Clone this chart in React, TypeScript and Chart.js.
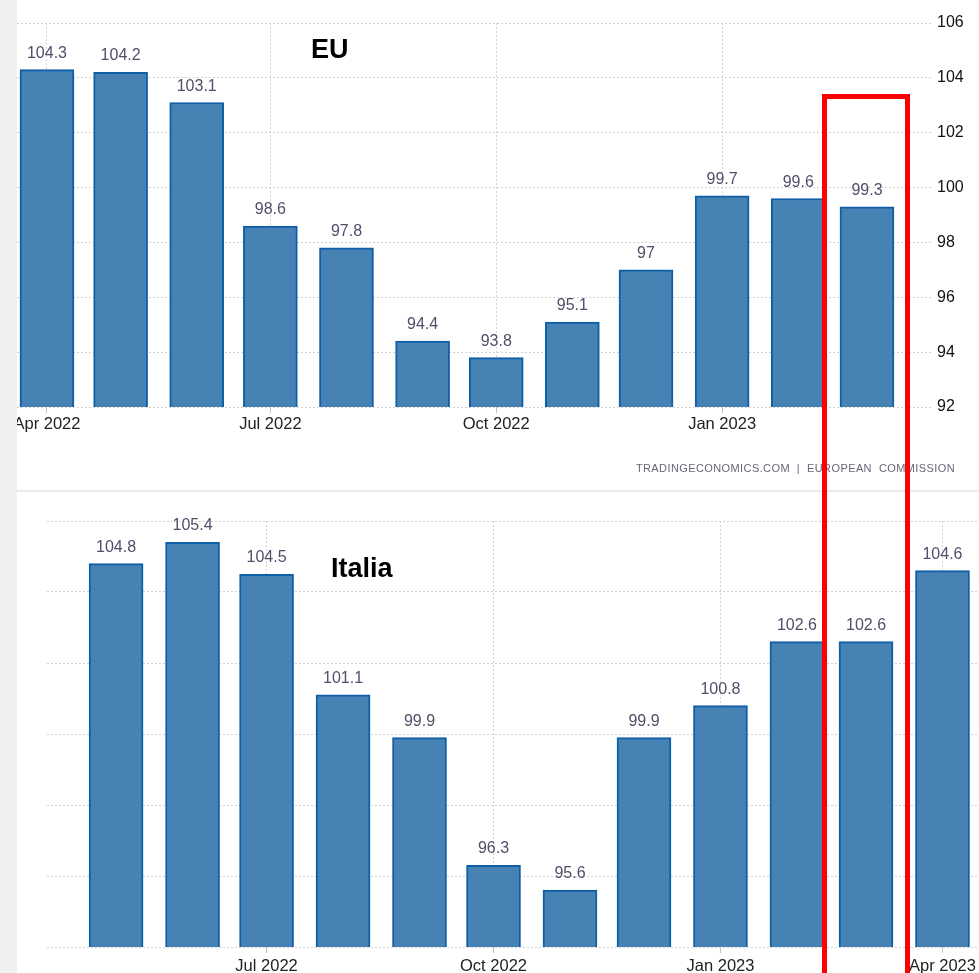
import React, { useEffect, useRef } from 'react';
import { Chart, registerables } from 'chart.js';

Chart.register(...registerables);

// ---- data ----
const euMonths = ['2022-04', '2022-05', '2022-06', '2022-07', '2022-08', '2022-09', '2022-10', '2022-11', '2022-12', '2023-01', '2023-02', '2023-03'];
const euValues = [104.3, 104.2, 103.1, 98.6, 97.8, 94.4, 93.8, 95.1, 97, 99.7, 99.6, 99.3];
const euTickMonths = ['2022-04', '2022-07', '2022-10', '2023-01'];
const euTickLabels = ['Apr 2022', 'Jul 2022', 'Oct 2022', 'Jan 2023'];
const euYTicks = [92, 94, 96, 98, 100, 102, 104, 106];

const itMonths = ['2022-05', '2022-06', '2022-07', '2022-08', '2022-09', '2022-10', '2022-11', '2022-12', '2023-01', '2023-02', '2023-03', '2023-04'];
const itValues = [104.8, 105.4, 104.5, 101.1, 99.9, 96.3, 95.6, 99.9, 100.8, 102.6, 102.6, 104.6];
const itTickMonths = ['2022-07', '2022-10', '2023-01', '2023-04'];
const itTickLabels = ['Jul 2022', 'Oct 2022', 'Jan 2023', 'Apr 2023'];
const itYTicks = [94, 96, 98, 100, 102, 104, 106];

const sourceText = 'TRADINGECONOMICS.COM  |  EUROPEAN  COMMISSION';

const BASE = Date.UTC(2022, 3, 1);
function dayOf(m: string): number {
  const [y, mo] = m.split('-').map(Number);
  return (Date.UTC(y, mo - 1, 1) - BASE) / 86400000;
}

const valueLabels = {
  id: 'valueLabels',
  afterDatasetsDraw(chart: any) {
    const ctx = chart.ctx;
    const ds = chart.data.datasets[0];
    const meta = chart.getDatasetMeta(0);
    ctx.save();
    ctx.font = '16px "Liberation Sans", Arial, sans-serif';
    ctx.fillStyle = '#4f4f6a';
    ctx.textAlign = 'center';
    ctx.textBaseline = 'alphabetic';
    meta.data.forEach((el: any, i: number) => {
      const v = ds.data[i].y;
      ctx.fillText(String(v), el.x, el.y - 12);
    });
    ctx.restore();
  },
};

const GRID = '#d2d2d2';
const BAR_FILL = '#4682b4';
const BAR_BORDER = '#0f5fa8';
const XFONT = { family: '"Liberation Sans", Arial, sans-serif', size: 16.5 };

function makeConfig(opts: {
  months: string[];
  values: number[];
  tickMonths: string[];
  tickLabels: string[];
  yTicks: number[];
  xmin: number;
  xmax: number;
  padding: any;
  xHeight: number;
  yWidth: number;
  showY: boolean;
  xPad: number;
}): any {
  return {
    type: 'bar',
    data: {
      datasets: [
        {
          data: opts.months.map((m, i) => ({ x: dayOf(m), y: opts.values[i] })),
          backgroundColor: BAR_FILL,
          borderColor: BAR_BORDER,
          borderWidth: 2,
          borderSkipped: false,
          barThickness: 54,
        },
      ],
    },
    options: {
      animation: false,
      responsive: false,
      maintainAspectRatio: false,
      layout: { padding: opts.padding },
      plugins: { legend: { display: false }, tooltip: { enabled: false } },
      scales: {
        x: {
          type: 'linear',
          offset: false,
          min: opts.xmin,
          max: opts.xmax,
          afterBuildTicks: (s: any) => {
            s.ticks = opts.tickMonths.map((m) => ({ value: dayOf(m) }));
          },
          afterFit: (s: any) => {
            s.height = opts.xHeight;
          },
          ticks: {
            autoSkip: false,
            maxRotation: 0,
            padding: opts.xPad,
            color: '#222',
            font: XFONT,
            callback: (v: number) => {
              const idx = opts.tickMonths.findIndex((m) => dayOf(m) === v);
              return idx >= 0 ? opts.tickLabels[idx] : '';
            },
          },
          grid: { color: GRID, tickLength: 6, tickColor: '#c4c4c4', offset: false },
          border: { display: false, dash: [2, 2] },
        },
        y: {
          position: 'right',
          min: opts.yTicks[0],
          max: opts.yTicks[opts.yTicks.length - 1],
          afterBuildTicks: (s: any) => {
            s.ticks = opts.yTicks.map((v) => ({ value: v }));
          },
          afterFit: (s: any) => {
            s.width = opts.yWidth;
          },
          ticks: {
            display: opts.showY,
            padding: 4,
            color: '#111',
            font: { family: '"Liberation Sans", Arial, sans-serif', size: 16 },
          },
          grid: { color: GRID, drawTicks: false },
          border: { display: false, dash: [2, 2] },
        },
      },
    },
    plugins: [valueLabels],
  };
}

function BarCanvas(props: { config: any; width: number; height: number; style: React.CSSProperties }) {
  const ref = useRef<HTMLCanvasElement | null>(null);
  useEffect(() => {
    if (!ref.current) return;
    const chart = new Chart(ref.current, props.config);
    return () => chart.destroy();
  }, []);
  return (
    <canvas
      ref={ref}
      width={props.width}
      height={props.height}
      style={{ position: 'absolute', width: props.width, height: props.height, ...props.style }}
    />
  );
}

export default function App() {
  const euConfig = makeConfig({
    months: euMonths,
    values: euValues,
    tickMonths: euTickMonths,
    tickLabels: euTickLabels,
    yTicks: euYTicks,
    xmin: -12.2,
    xmax: 360.9,
    padding: { left: 60, top: 23, right: 0, bottom: 0 },
    xHeight: 83,
    yWidth: 46,
    showY: true,
    xPad: 2,
  });
  const itConfig = makeConfig({
    months: itMonths,
    values: itValues,
    tickMonths: itTickMonths,
    tickLabels: itTickLabels,
    yTicks: itYTicks,
    xmin: 2,
    xmax: 379.8,
    padding: { left: 30, top: 29, right: 51, bottom: 0 },
    xHeight: 26,
    yWidth: 0,
    showY: false,
    xPad: 4,
  });

  return (
    <div
      style={{
        position: 'absolute',
        left: 0,
        top: 0,
        width: 979,
        height: 973,
        overflow: 'hidden',
        background: '#f0f0f0',
      }}
    >
      {/* EU panel */}
      <div style={{ position: 'absolute', left: 17, top: 0, width: 962, height: 490, background: '#fff', overflow: 'hidden' }}>
        <BarCanvas config={euConfig} width={1022} height={490} style={{ left: -60, top: 0 }} />
        <div
          style={{
            position: 'absolute',
            right: 24,
            top: 463,
            fontFamily: '"Liberation Sans", Arial, sans-serif',
            fontSize: 11,
            lineHeight: '11px',
            letterSpacing: '0.4px',
            color: '#66667a',
            whiteSpace: 'pre',
          }}
        >
          {sourceText}
        </div>
      </div>
      {/* separator */}
      <div style={{ position: 'absolute', left: 17, top: 490, width: 962, height: 2, background: '#ebebeb' }} />
      {/* Italia panel */}
      <div style={{ position: 'absolute', left: 17, top: 492, width: 962, height: 481, background: '#fff', overflow: 'hidden' }}>
        <BarCanvas config={itConfig} width={1013} height={481} style={{ left: 0, top: 0 }} />
      </div>
      {/* titles */}
      <div
        style={{
          position: 'absolute',
          left: 311,
          top: 36,
          fontFamily: '"Liberation Sans", Arial, sans-serif',
          fontWeight: 'bold',
          fontSize: 27,
          lineHeight: '27px',
          color: '#000',
        }}
      >
        EU
      </div>
      <div
        style={{
          position: 'absolute',
          left: 331,
          top: 555,
          fontFamily: '"Liberation Sans", Arial, sans-serif',
          fontWeight: 'bold',
          fontSize: 27,
          lineHeight: '27px',
          color: '#000',
        }}
      >
        Italia
      </div>
      {/* red highlight */}
      <div
        style={{
          position: 'absolute',
          left: 822,
          top: 94,
          width: 88,
          height: 950,
          border: '5px solid #ff0000',
          boxSizing: 'border-box',
        }}
      />
    </div>
  );
}
